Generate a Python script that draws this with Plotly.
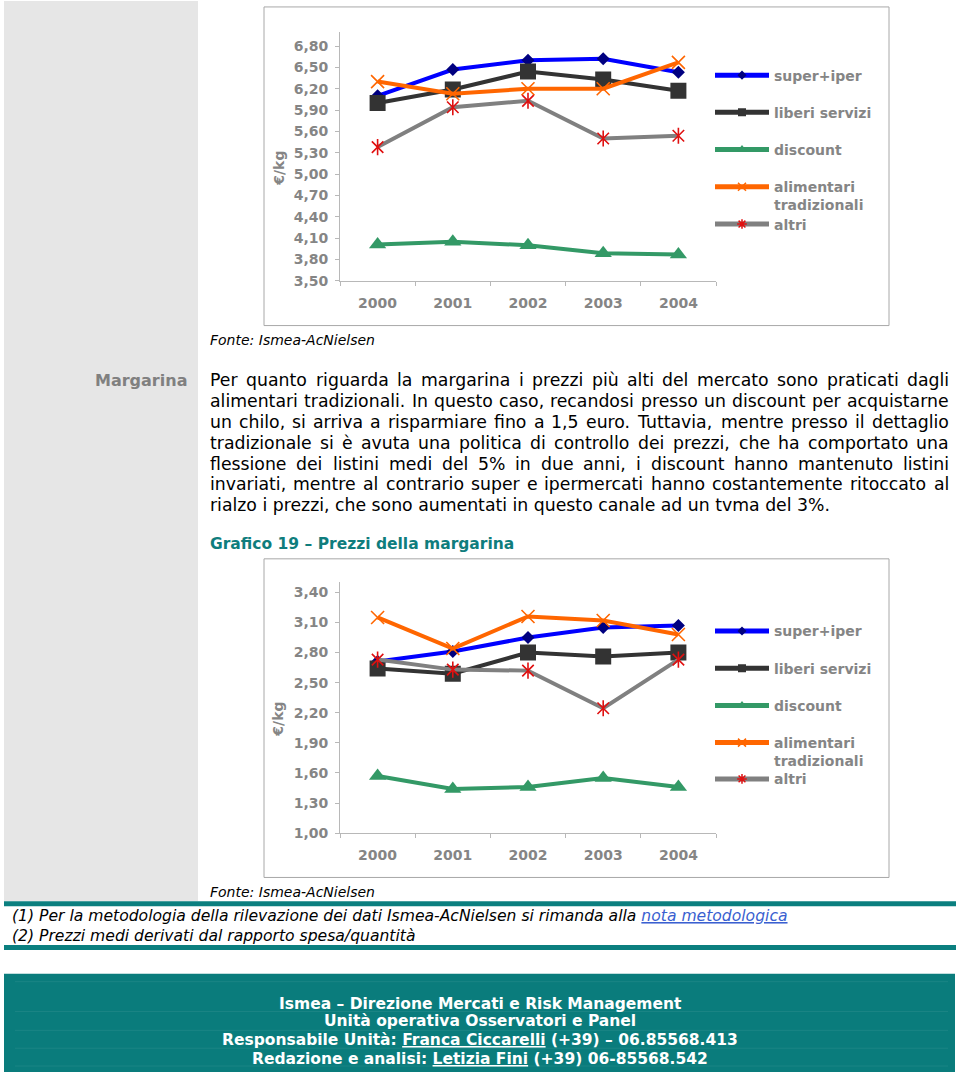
import plotly.graph_objects as go

W, H = 960, 1082


def PX(x):
    return x / W


def PY(y):
    return 1 - y / H


# ---------------- data ----------------
years = ["2000", "2001", "2002", "2003", "2004"]
series_names = ["super+iper", "liberi servizi", "discount", "alimentari<br>tradizionali", "altri"]

# upper chart (€/kg)
top_super = [6.10, 6.47, 6.60, 6.62, 6.43]
top_liberi = [6.00, 6.19, 6.44, 6.33, 6.17]
top_discount = [4.01, 4.05, 4.00, 3.89, 3.87]
top_alimentari = [6.30, 6.13, 6.20, 6.20, 6.57]
top_altri = [5.38, 5.94, 6.03, 5.50, 5.54]
top_ticks = [3.50, 3.80, 4.10, 4.40, 4.70, 5.00, 5.30, 5.60, 5.90, 6.20, 6.50, 6.80]

# Grafico 19 - Prezzi della margarina (€/kg)
marg_super = [2.71, 2.81, 2.95, 3.05, 3.07]
marg_liberi = [2.64, 2.59, 2.80, 2.76, 2.80]
marg_discount = [1.57, 1.44, 1.46, 1.55, 1.46]
marg_alimentari = [3.15, 2.84, 3.16, 3.12, 2.98]
marg_altri = [2.73, 2.63, 2.62, 2.245, 2.73]
marg_ticks = [1.00, 1.30, 1.60, 1.90, 2.20, 2.50, 2.80, 3.10, 3.40]

paragraph = [
    "Per quanto riguarda la margarina i prezzi più alti del mercato sono praticati dagli",
    "alimentari tradizionali. In questo caso, recandosi presso un discount per acquistarne",
    "un chilo, si arriva a risparmiare fino a 1,5 euro. Tuttavia, mentre presso il dettaglio",
    "tradizionale si è avuta una politica di controllo dei prezzi, che ha comportato una",
    "flessione dei listini medi del 5% in due anni, i discount hanno mantenuto listini",
    "invariati, mentre al contrario super e ipermercati hanno costantemente ritoccato al",
    "rialzo i prezzi, che sono aumentati in questo canale ad un tvma del 3%.",
]

# ---------------- styles ----------------
FONT = "DejaVu Sans"
GRAY_TXT = "#858585"
AXIS_COL = "#b8b8b8"
TEAL = "#0b7f7f"

line_colors = ["#0000ff", "#333333", "#339966", "#ff6600", "#808080"]
marker_styles = [
    dict(symbol="diamond", size=10, color="#000080", line=dict(width=0)),
    dict(symbol="square", size=16, color="#333333", line=dict(width=0)),
    dict(symbol=5, size=15, color="#339966", opacity=1, line=dict(width=0, color="#339966")),
    dict(symbol="x-thin", size=13, color="#ff6600", line=dict(width=1.6, color="#ff6600")),
    dict(symbol="x-thin", size=11.5, color="#e01010", line=dict(width=1.6, color="#e01010")),
]
legend_markers = [
    dict(symbol="diamond", size=7, color="#000080", line=dict(width=0)),
    dict(symbol="square", size=8, color="#333333", line=dict(width=0)),
    dict(symbol=5, size=9, color="#339966", line=dict(width=0)),
    dict(symbol="x-thin", size=8, color="#ff6600", line=dict(width=1.5, color="#ff6600")),
    dict(symbol="asterisk", size=8, color="#e01010", line=dict(width=1.5, color="#e01010")),
]

fig = go.Figure()


def add_chart(xa, ya, series, leg_main, leg_altri):
    for i, (name, vals) in enumerate(zip(series_names, series)):
        fig.add_trace(go.Scatter(
            x=years, y=vals, xaxis=xa, yaxis=ya, mode="lines+markers",
            line=dict(color=line_colors[i], width=4),
            marker=marker_styles[i], showlegend=False, hoverinfo="skip"))
        if i == 4:
            fig.add_trace(go.Scatter(
                x=years, y=vals, xaxis=xa, yaxis=ya, mode="markers",
                marker=dict(symbol="line-ns", size=11.5, color="#e01010",
                            line=dict(width=1.6, color="#e01010")),
                showlegend=False, hoverinfo="skip"))
        # legend entry
        fig.add_trace(go.Scatter(
            x=[None], y=[None], xaxis=xa, yaxis=ya, mode="lines+markers", name=name,
            line=dict(color=line_colors[i], width=5), marker=legend_markers[i],
            legend=leg_altri if i == 4 else leg_main, legendgroup=f"{leg_main}{i}",
            showlegend=True))


add_chart("x", "y", [top_super, top_liberi, top_discount, top_alimentari, top_altri],
          "legend", "legend2")
add_chart("x2", "y2", [marg_super, marg_liberi, marg_discount, marg_alimentari, marg_altri],
          "legend3", "legend4")

tickfont = dict(family=FONT, size=14, color=GRAY_TXT, weight="bold")


def xaxis_cfg(anchor):
    return dict(domain=[PX(340), PX(716)], anchor=anchor, type="category",
                categoryorder="array", categoryarray=years, range=[-0.5, 4.5],
                showline=True, linecolor=AXIS_COL, linewidth=1, ticks="outside",
                tickson="boundaries", ticklen=4, tickcolor=AXIS_COL, tickfont=tickfont,
                showgrid=False, zeroline=False, fixedrange=True, ticklabelstandoff=9)


def yaxis_cfg(anchor, dom, rng, tv):
    return dict(domain=dom, anchor=anchor, range=rng, tickvals=tv, tickformat=".2f",
                showline=True, linecolor=AXIS_COL, linewidth=1, ticks="outside",
                ticklen=4, tickcolor=AXIS_COL, tickfont=tickfont, showgrid=False,
                zeroline=False, fixedrange=True, ticklabelstandoff=4)


legfont = dict(family=FONT, size=14, color=GRAY_TXT, weight="bold")


def legend_cfg(top_px):
    return dict(x=PX(710), y=PY(top_px), xanchor="left", yanchor="top",
                bgcolor="rgba(0,0,0,0)", font=legfont, itemwidth=54,
                tracegroupgap=16, traceorder="grouped", valign="top",
                itemsizing="trace", itemclick=False, itemdoubleclick=False)


shapes = [
    dict(type="rect", xref="paper", yref="paper", x0=PX(4), x1=PX(198), y0=PY(908), y1=PY(1),
         fillcolor="#e6e6e6", line=dict(width=0), layer="below"),
    dict(type="rect", xref="paper", yref="paper", x0=PX(264), x1=PX(889), y0=PY(328), y1=PY(7),
         fillcolor="white", line=dict(width=1, color="#a8a8a8"), layer="below"),
    dict(type="rect", xref="paper", yref="paper", x0=PX(264), x1=PX(889), y0=PY(884), y1=PY(563),
         fillcolor="white", line=dict(width=1, color="#a8a8a8"), layer="below"),
    dict(type="rect", xref="paper", yref="paper", x0=PX(4), x1=PX(956), y0=PY(913), y1=PY(908),
         fillcolor=TEAL, line=dict(width=0), layer="below"),
    dict(type="rect", xref="paper", yref="paper", x0=PX(4), x1=PX(956), y0=PY(957), y1=PY(952),
         fillcolor=TEAL, line=dict(width=0), layer="below"),
    dict(type="rect", xref="paper", yref="paper", x0=PX(4), x1=PX(955), y0=PY(1080), y1=PY(981),
         fillcolor="#0a7c7c", line=dict(width=0), layer="below"),
]
for yy in [989, 1019, 1038, 1056, 1074]:
    shapes.append(dict(type="line", xref="paper", yref="paper", x0=PX(15), x1=PX(948),
                       y0=PY(yy), y1=PY(yy), line=dict(width=1, color="rgba(255,255,255,0.07)"),
                       layer="below"))

annotations = []


def ann(text, x, y, size, color="#000000", xanchor="left", weight="normal", style="normal",
        angle=0):
    annotations.append(dict(text=text, x=PX(x), y=PY(y), xref="paper", yref="paper",
                            xanchor=xanchor, yanchor="middle", showarrow=False, borderpad=0,
                            textangle=angle,
                            font=dict(family=FONT, size=size, color=color, weight=weight,
                                      style=style)))


# y-axis titles
ann("€/kg", 279, 170, 14, GRAY_TXT, "center", "bold", angle=-90)
ann("€/kg", 278, 725, 14, GRAY_TXT, "center", "bold", angle=-90)

# sources
ann("Fonte: Ismea-AcNielsen", 209, 343, 14, style="italic")
ann("Fonte: Ismea-AcNielsen", 209, 899, 14, style="italic")

# section label
ann("Margarina", 188, 383, 16, "#808080", "right", "bold")

# justified paragraph: per-word placement using DejaVu Sans advance widths
DV = {"a": 1255, "b": 1300, "c": 1126, "d": 1300, "e": 1260, "f": 721, "g": 1300, "h": 1298,
      "i": 569, "j": 569, "k": 1186, "l": 569, "m": 1995, "n": 1298, "o": 1253, "p": 1300,
      "q": 1300, "r": 842, "s": 1067, "t": 803, "u": 1298, "v": 1212, "w": 1675, "x": 1212,
      "y": 1212, "z": 1075, ",": 651, ".": 651, "%": 1946, "1": 1303, "5": 1303, "3": 1303,
      "P": 1235, "I": 604, "T": 1251, "è": 1260, "ù": 1298, "à": 1255}
BODY = 17.3
LEFT, RIGHT = 209, 948
line_y = [383, 404, 425, 446, 467, 488, 509]


def wwidth(w):
    return sum(DV.get(c, 1250) for c in w) / 2048 * BODY


for k, (txt, yy) in enumerate(zip(paragraph, line_y)):
    if k == len(paragraph) - 1:
        ann(txt, LEFT, yy, BODY)
        continue
    words = txt.split(" ")
    widths = [wwidth(w) for w in words]
    gap = (RIGHT - LEFT - sum(widths)) / (len(words) - 1)
    cx = LEFT
    for w, wd in zip(words, widths):
        ann(w, cx, yy, BODY)
        cx += wd + gap

ann("Grafico 19 – Prezzi della margarina", 209, 548, 15.5, "#0f7d7d", weight="bold")

# footnotes
ann("(1) Per la metodologia della rilevazione dei dati Ismea-AcNielsen si rimanda alla "
    "<span style='color:#3a5fd0'><u>nota metodologica</u></span>", 11, 923, 15.6, style="italic")
ann("(2) Prezzi medi derivati dal rapporto spesa/quantità", 11, 943, 15.6, style="italic")

# footer
footer = [
    ("Ismea – Direzione Mercati e Risk Management", 1011),
    ("Unità operativa Osservatori e Panel", 1029),
    ("Responsabile Unità: <u>Franca Ciccarelli</u> (+39) – 06.85568.413", 1048),
    ("Redazione e analisi: <u>Letizia Fini</u> (+39) 06-85568.542", 1067),
]
for txt, yy in footer:
    ann(txt, 480, yy, 15.5, "#ffffff", "center", "bold")

fig.update_layout(
    width=W, height=H, autosize=False,
    margin=dict(l=0, r=0, t=0, b=0, pad=0),
    paper_bgcolor="white", plot_bgcolor="rgba(0,0,0,0)",
    separators=",.",
    xaxis=xaxis_cfg("y"),
    yaxis=yaxis_cfg("x", [PY(283), PY(32)], [3.5, 7.0], top_ticks),
    xaxis2=xaxis_cfg("y2"),
    yaxis2=yaxis_cfg("x2", [PY(839.3), PY(586.7)], [1.0, 3.5], marg_ticks),
    legend=legend_cfg(60),
    legend2=legend_cfg(210),
    legend3=legend_cfg(620),
    legend4=legend_cfg(769),
    shapes=shapes,
    annotations=annotations,
    hovermode=False,
)

post = (
    "document.documentElement.style.margin='0px';"
    "document.body.style.margin='0px';document.body.style.padding='0px';"
)
fig.write_html("out.html", post_script=post, config={"displayModeBar": False})
